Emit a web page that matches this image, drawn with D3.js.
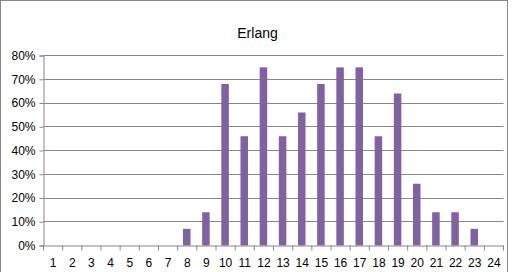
<!DOCTYPE html>
<html>
<head>
<meta charset="utf-8">
<script src="https://cdn.jsdelivr.net/npm/d3@7"></script>
<style>
  body { margin: 0; background: #fff; }
  text { font-family: "Liberation Sans", Arial, sans-serif; fill: #000; }
</style>
</head>
<body>
<svg id="chart" width="512" height="272"></svg>
<script>
var categories = ["1", "2", "3", "4", "5", "6", "7", "8", "9", "10", "11", "12",
                  "13", "14", "15", "16", "17", "18", "19", "20", "21", "22", "23", "24"];
var values = [0, 0, 0, 0, 0, 0, 0, 0.07, 0.14, 0.68, 0.46, 0.75,
              0.46, 0.56, 0.68, 0.75, 0.75, 0.46, 0.64, 0.26, 0.14, 0.14, 0.07, 0];
var yTicks = [0, 0.1, 0.2, 0.3, 0.4, 0.5, 0.6, 0.7, 0.8];

var svg = d3.select("#chart");

// outer chart border (bottom edge is cut off in the picture)
svg.append('rect').attr('x', 0.5).attr('y', 0.5).attr('width', 507).attr('height', 280)
  .attr('fill', 'none').attr('stroke', '#888').attr('stroke-width', 1);

svg.append('text').attr('x', 257.5).attr('y', 38).attr('text-anchor', 'middle')
  .style('font-size', '14px').text("Erlang");

var plot = svg.append('g').attr('transform', 'translate(43.5, 0.5)');
var xScale = d3.scaleBand().domain(categories).range([0, 460]);
var yScale = d3.scaleLinear().domain([0, 0.8]).range([245, 55]);

// gridlines
plot.append('g').selectAll('line').data(yTicks.slice(1)).enter().append('line')
  .attr('x1', 0).attr('x2', 460)
  .attr('y1', function(d) { return Math.round(yScale(d)); })
  .attr('y2', function(d) { return Math.round(yScale(d)); })
  .attr('stroke', '#878787').attr('stroke-width', 1);

// bars
var bw = 7.5;
plot.append('g').selectAll('rect').data(values).enter().append('rect')
  .attr('x', function(d, i) { return xScale(categories[i]) + xScale.bandwidth() / 2 - bw / 2 - 0.5; })
  .attr('y', function(d) { return yScale(d); })
  .attr('width', bw)
  .attr('height', function(d) { return yScale(0) - yScale(d); })
  .attr('fill', '#7f62a1');

// y axis
var yAxis = plot.append('g').call(d3.axisLeft(yScale).tickValues(yTicks).tickSize(4).tickPadding(4).tickFormat(d3.format('.0%')));
yAxis.select('.domain').attr('stroke', '#878787');
yAxis.selectAll('.tick line').attr('stroke', '#878787');
yAxis.selectAll('text').style('font-size', '12px').attr('fill', '#000');

// x axis with tick marks between categories
var xAxisG = plot.append('g').attr('transform', 'translate(0,' + Math.round(yScale(0)) + ')');
xAxisG.call(d3.axisBottom(xScale).tickSize(0).tickPadding(13));
xAxisG.select('.domain').attr('stroke', '#878787');
xAxisG.selectAll('text').style('font-size', '12px').attr('fill', '#000');
xAxisG.selectAll('line.sep').data(d3.range(categories.length + 1)).enter().append('line')
  .attr('class', 'sep')
  .attr('x1', function(d) { return d * xScale.step(); })
  .attr('x2', function(d) { return d * xScale.step(); })
  .attr('y1', 0).attr('y2', 5)
  .attr('stroke', '#878787');
</script>
</body>
</html>
